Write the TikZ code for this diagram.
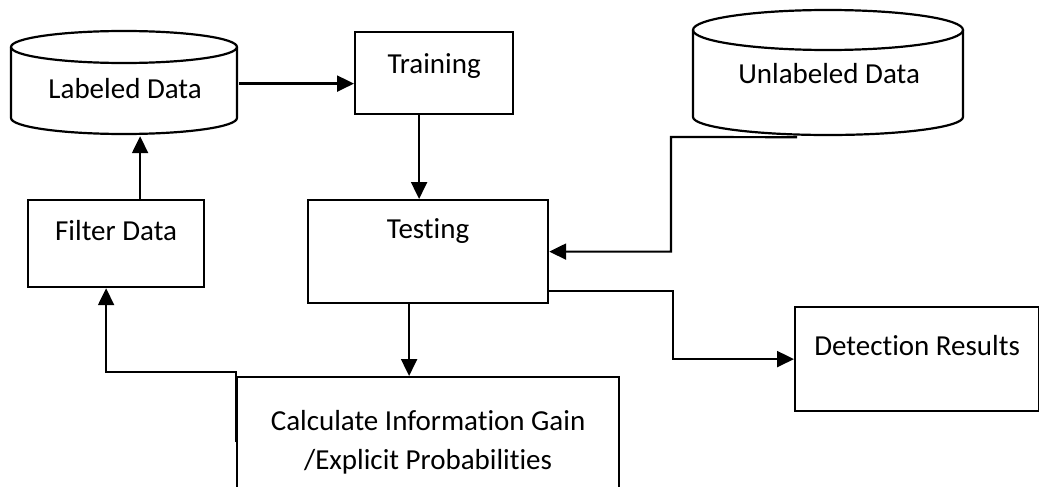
\documentclass[tikz,border=0pt]{standalone}
\usepackage{fontspec}
\setmainfont{Carlito}[Ligatures=NoCommon]
\usetikzlibrary{arrows.meta}

\tikzset{
  box/.style={draw, inner sep=0pt, anchor=north west, font=\fontsize{29}{39}\selectfont},
  dbtext/.style={inner sep=0pt, anchor=north west, font=\fontsize{29}{39}\selectfont},
  arr/.style={-{Triangle[length=17pt,width=16pt]}},
}

\begin{document}
\begin{tikzpicture}[x=1pt, y=-1pt, line width=2.2pt]
\useasboundingbox (0,0) rectangle (1039,487);
% databases
\draw (124,47) ellipse (113pt and 16pt);
\draw (11,47) -- (11,118) arc[start angle=180, end angle=360, x radius=113pt, y radius=16pt] -- (237,47);
\node[dbtext, minimum width=226pt, text height=66pt, text depth=37pt] (lab) at (11,31) {Labeled Data};
\draw (828,30) ellipse (135pt and 20pt);
\draw (693,30) -- (693,117) arc[start angle=180, end angle=360, x radius=135pt, y radius=18pt] -- (963,30);
\node[dbtext, minimum width=270pt, text height=72pt, text depth=53pt] (un) at (693,10) {Unlabeled Data};
% boxes
\node[box, minimum width=158pt, text height=41pt, text depth=41pt] (train) at (354,31) {Training};
\node[box, minimum width=240pt, text height=38pt, text depth=65pt] (test) at (307,199) {Testing};
\node[box, minimum width=176pt, text height=40pt, text depth=47pt] (filter) at (27,199) {Filter Data};
\node[box, minimum width=244pt, text height=48pt, text depth=56pt] (det) at (794,306) {Detection Results};
\node[box, minimum width=382pt, minimum height=130pt, align=center] (calc) at (236,376) {Calculate Information Gain\\/Explicit Probabilities};
\coordinate (j1) at (671,137);
% arrows
\draw[arr] (lab.east) -- (lab.east -| train.west);
\draw[arr] ([xshift=-15pt]train.south) -- ([xshift=-15pt]train.south |- test.north);
\draw[arr] ([xshift=-32pt]un.south) -- (j1) |- (test.east);
\draw[arr] ([yshift=13pt]test.south east) -- ++(124,0) |- (det.west);
\draw[arr] ([xshift=-19pt]test.south) -- ([xshift=-19pt]test.south |- calc.north);
\draw[arr] (calc.west) -- ++(0,-70) -| ([xshift=-10pt]filter.south);
\draw[arr] ([xshift=24pt]filter.north) -- ([xshift=24pt]filter.north |- lab.south);
\end{tikzpicture}
\end{document}
